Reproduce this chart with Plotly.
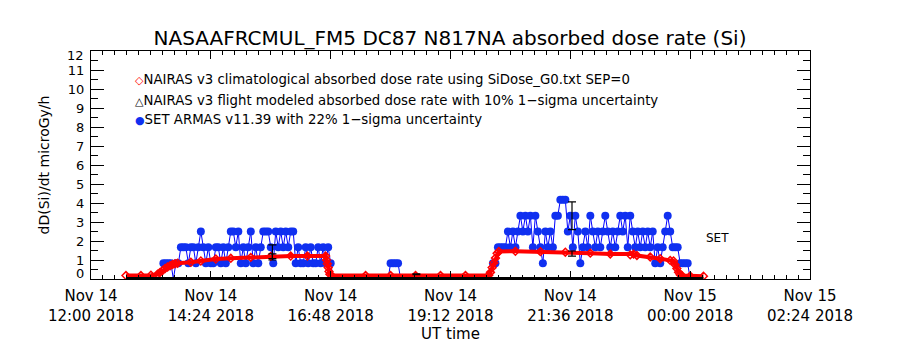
import plotly.graph_objects as go
import pandas as pd
import numpy as np

TITLE = "NASAAFRCMUL_FM5 DC87 N817NA absorbed dose rate (Si)"
X_START = "2018-11-14 12:00"
X_END = "2018-11-15 02:24"

# x tick labels (two lines)
TICK_TIMES = ["2018-11-14 12:00", "2018-11-14 14:24", "2018-11-14 16:48", "2018-11-14 19:12",
              "2018-11-14 21:36", "2018-11-15 00:00", "2018-11-15 02:24"]
TICK_DAY = ["Nov 14", "Nov 14", "Nov 14", "Nov 14", "Nov 14", "Nov 15", "Nov 15"]
TICK_CLOCK = ["12:00 2018", "14:24 2018", "16:48 2018", "19:12 2018", "21:36 2018", "00:00 2018", "02:24 2018"]

# SET ARMAS dose-rate levels (quantized, microGy/h)
LEVELS = [0.0, 0.83, 1.67, 2.5, 3.33, 4.17]

# flight 1 (3-min samples from 13:27)
SET1_START = "2018-11-14 13:27"
SET1_LEVEL = [1, 1, 1, 1, 0, 1, 1, 2, 2, 2, 1, 2, 2, 1, 2, 3, 2, 1, 2, 1,
              1, 2, 2, 1, 2, 1, 2, 3, 3, 2, 3, 1, 2, 1, 2, 3, 1, 2, 1, 2,
              3, 3, 3, 2, 1, 3, 2, 3, 2, 3, 2, 3, 3, 1, 2, 1, 1, 2, 1, 2,
              1, 1, 2, 1, 2, 1, 2, 1, 0]
# ground segment
SET_G_TIME = ["2018-11-14 17:57", "2018-11-14 18:00", "2018-11-14 18:03", "2018-11-14 18:06",
              "2018-11-14 18:09", "2018-11-14 18:12"]
SET_G_LEVEL = [0, 1, 1, 1, 1, 0]
# flight 2 (3-min samples from 20:00)
SET2_START = "2018-11-14 20:00"
SET2_LEVEL = [0, 1, 1, 2, 2, 2, 2, 3, 2, 3, 2, 3, 4, 3, 4, 3, 4, 2, 4, 3,
              2, 1, 3, 2, 3, 2, 4, 4, 5, 5, 5, 3, 4, 2, 4, 3, 1, 2, 3, 2,
              4, 3, 2, 3, 2, 3, 4, 3, 2, 3, 2, 3, 4, 3, 4, 2, 4, 3, 2, 3,
              2, 3, 2, 3, 2, 3, 1, 2, 1, 2, 3, 4, 3, 2, 2, 2, 1, 1, 1, 1, 0]

# NAIRAS climatological absorbed dose rate
RED_TIME = ["12:42", "13:00", "13:12", "13:20", "13:23", "13:26", "13:29", "13:32", "13:35",
            "13:38", "13:41", "13:44", "14:00", "14:12", "14:30", "14:48", "15:12", "15:36",
            "16:00", "16:20", "16:42", "16:43", "16:44", "16:45", "16:46", "16:47", "16:49",
            "17:30", "18:00", "18:30", "19:00", "19:30", "19:58", "20:00", "20:02", "20:04",
            "20:06", "20:08", "20:10", "20:30", "21:00", "21:30", "22:00", "22:24", "22:48",
            "22:52", "22:56", "23:12", "23:24", "23:36", "23:40", "23:42", "23:44", "23:46",
            "23:48", "23:50", "00:00", "00:16"]
RED_VALUE = [0.18, 0.18, 0.2, 0.25, 0.35, 0.45, 0.55, 0.63, 0.7, 0.76, 0.8, 0.83, 0.88,
             0.95, 1.05, 1.09, 1.14, 1.19, 1.21, 1.21, 1.21, 1.0, 0.8, 0.6, 0.4, 0.25, 0.18,
             0.18, 0.18, 0.18, 0.18, 0.18, 0.2, 0.35, 0.6, 0.85, 1.1, 1.35, 1.45, 1.46, 1.44,
             1.41, 1.36, 1.32, 1.27, 1.31, 1.24, 1.16, 1.07, 0.98, 0.95, 0.75, 0.55, 0.35,
             0.22, 0.18, 0.16, 0.15]

# NAIRAS flight modeled (baseline) and error-bar points
BLK_TIME = ["2018-11-14 12:42", "2018-11-15 00:16"]
BLK_VALUE = [0.0, 0.0]
BLK_ERR_TIME = ["2018-11-14 15:38", "2018-11-14 18:31", "2018-11-14 21:38"]
BLK_ERR_VALUE = [1.2, 0.25, 1.34]
BLK_ERR = [0.12, 0.025, 0.134]
SET_ERR_TIME = ["2018-11-14 15:38", "2018-11-14 21:38"]
SET_ERR_VALUE = [1.4, 3.33]
SET_ERR = [0.4, 0.73]

FONT = "DejaVu Sans"

def red_times(lst):
    out = []
    day = 14
    prev = None
    for s in lst:
        h = int(s[:2])
        if prev is not None and h < prev:
            day = 15
        prev = h
        out.append(pd.Timestamp(f"2018-11-{day} {s}"))
    return out

t1 = pd.date_range(SET1_START, periods=len(SET1_LEVEL), freq="3min")
t2 = pd.date_range(SET2_START, periods=len(SET2_LEVEL), freq="3min")
set_t = list(t1) + [pd.Timestamp(s) for s in SET_G_TIME] + list(t2)
set_v = np.array([LEVELS[i] for i in SET1_LEVEL + SET_G_LEVEL + SET2_LEVEL])
set_t = np.array(set_t)
mask = set_v > 0

fig = go.Figure()
fig.add_trace(go.Scatter(x=set_t, y=set_v, mode="lines", line=dict(color="#0000ff", width=1),
                         showlegend=False, hoverinfo="skip"))
fig.add_trace(go.Scatter(x=set_t[mask], y=set_v[mask], mode="markers",
                         marker=dict(color="#1030f0", size=8, symbol="circle"),
                         name="SET ARMAS v11.39 with 22% 1-sigma uncertainty", showlegend=False))
fig.add_trace(go.Scatter(x=red_times(RED_TIME), y=RED_VALUE, mode="lines+markers",
                         line=dict(color="#ff0000", width=4),
                         marker=dict(symbol="diamond-open", color="#ff0000", size=6, line=dict(width=1.5)),
                         name="NAIRAS v3 climatological", showlegend=False))
fig.add_trace(go.Scatter(x=BLK_TIME, y=BLK_VALUE, mode="lines", line=dict(color="black", width=4),
                         showlegend=False, hoverinfo="skip"))
fig.add_trace(go.Scatter(x=SET_ERR_TIME, y=SET_ERR_VALUE, mode="markers",
                         marker=dict(color="rgba(0,0,0,0)", size=1),
                         error_y=dict(type="data", array=SET_ERR, color="black", thickness=1.2, width=4),
                         showlegend=False))
fig.add_trace(go.Scatter(x=BLK_ERR_TIME, y=BLK_ERR_VALUE, mode="markers",
                         marker=dict(color="rgba(0,0,0,0)", size=1),
                         error_y=dict(type="data", array=BLK_ERR, color="black", thickness=1.2, width=4),
                         showlegend=False))

annotations = []
# end y labels shifted inward (as in the original)
annotations.append(dict(x=0, y=0, xref="paper", yref="y", text="0", showarrow=False, xanchor="right",
                        xshift=-6, yshift=6, borderpad=0, font=dict(family=FONT, size=13, color="black")))
annotations.append(dict(x=0, y=12, xref="paper", yref="y", text="12", showarrow=False, xanchor="right",
                        xshift=-6, yshift=-4, borderpad=0, font=dict(family=FONT, size=13, color="black")))
# legend
LEG = [("<span style='color:#ff0000;font-size:11px'>◇</span>NAIRAS v3 climatological absorbed dose rate using SiDose_G0.txt SEP=0", 79),
       ("<span style='color:black;font-size:11px'>△</span>NAIRAS v3 flight modeled absorbed dose rate with 10% 1−sigma uncertainty", 100),
       ("<span style='color:#1030f0;font-size:11px'>●</span>SET ARMAS v11.39 with 22% 1−sigma uncertainty", 119)]
for txt, py in LEG:
    annotations.append(dict(x=(133 - 91) / 719, y=(279 - py) / 228, xref="paper", yref="paper", text=txt,
                            showarrow=False, xanchor="left", yanchor="middle",
                            font=dict(family=FONT, size=13.3, color="black")))
annotations.append(dict(x="2018-11-15 00:17", y=2.16, xref="x", yref="y", text="SET", showarrow=False,
                        xanchor="left", yanchor="middle", font=dict(family=FONT, size=12, color="black")))

fig.update_layout(
    width=900, height=350, margin=dict(l=91, r=90, t=51, b=71),
    paper_bgcolor="white", plot_bgcolor="white",
    title=dict(text=TITLE, x=0.5, xanchor="center", y=1 - 38 / 350, yanchor="middle",
               font=dict(family=FONT, size=20, color="black")),
    font=dict(family=FONT, color="black"),
    annotations=annotations,
    xaxis=dict(type="date", range=[X_START, X_END], showgrid=False, zeroline=False,
               showline=True, linecolor="black", linewidth=1, mirror="ticks",
               tickmode="array", tickvals=TICK_TIMES,
               ticktext=[f"{d}<br>{c}" for d, c in zip(TICK_DAY, TICK_CLOCK)],
               tickfont=dict(family=FONT, size=15, color="black"), ticklabelstandoff=3,
               ticks="inside", ticklen=8, tickcolor="black",
               minor=dict(ticks="inside", ticklen=4, tickcolor="black", dtick=864000, tick0=X_START, showgrid=False),
               title=dict(text="UT time", standoff=1, font=dict(family=FONT, size=15, color="black"))),
    yaxis=dict(range=[0, 12], showgrid=False, zeroline=False,
               showline=True, linecolor="black", linewidth=1, mirror="ticks",
               tickmode="array", tickvals=list(range(13)),
               ticktext=[""] + [str(i) for i in range(1, 12)] + [""],
               ticks="inside", ticklen=13, tickcolor="black", ticklabelstandoff=3,
               tickfont=dict(family=FONT, size=13, color="black"),
               minor=dict(ticks="inside", ticklen=7, tickcolor="black", dtick=0.5, showgrid=False),
               title=dict(text="dD(Si)/dt microGy/h", standoff=14, font=dict(family=FONT, size=14, color="black"))),
)

fig.write_html("out.html")
